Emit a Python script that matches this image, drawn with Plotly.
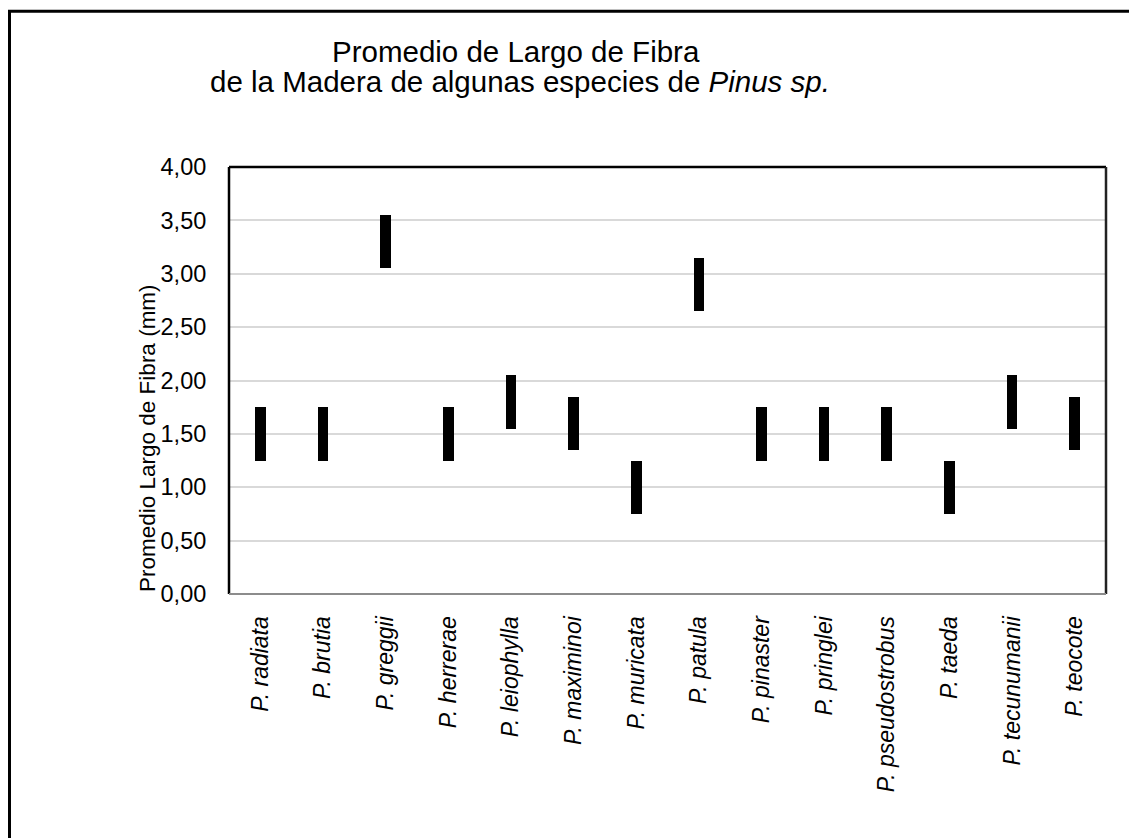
import plotly.graph_objects as go

species = ["P. radiata", "P. brutia", "P. greggii", "P. herrerae", "P. leiophylla",
           "P. maximinoi", "P. muricata", "P. patula", "P. pinaster", "P. pringlei",
           "P. pseudostrobus", "P. taeda", "P. tecunumanii", "P. teocote"]
fiber_min = [1.25, 1.25, 3.05, 1.25, 1.55, 1.35, 0.75, 2.65, 1.25, 1.25, 1.25, 0.75, 1.55, 1.35]
fiber_max = [1.75, 1.75, 3.55, 1.75, 2.05, 1.85, 1.25, 3.15, 1.75, 1.75, 1.75, 1.25, 2.05, 1.85]
y_ticks = [0, 0.5, 1.0, 1.5, 2.0, 2.5, 3.0, 3.5, 4.0]

FONT = "Liberation Sans, Arial, sans-serif"

fig = go.Figure()
fig.add_trace(go.Bar(
    x=species,
    base=fiber_min,
    y=[hi - lo for lo, hi in zip(fiber_min, fiber_max)],
    width=0.17,
    marker=dict(color="black", line=dict(width=0)),
    showlegend=False,
    hoverinfo="skip",
))

W, H = 1129, 838
L, R, T, B = 229, 23, 167, 244
pw, ph = W - L - R, H - T - B

def px(xp):
    return (xp - L) / pw

def py(yp):
    return (H - B - yp) / ph

fig.update_layout(
    width=W, height=H,
    margin=dict(l=L, r=R, t=T, b=B, pad=0),
    paper_bgcolor="white", plot_bgcolor="white",
    separators=",.",
    font=dict(family=FONT, color="black"),
    xaxis=dict(
        type="category",
        tickmode="array",
        tickvals=species,
        ticktext=["<i>%s</i>" % s for s in species],
        tickangle=-90,
        tickfont=dict(size=23, family=FONT, color="black"),
        showgrid=False,
        showline=False,
        ticks="outside", ticklen=12, tickcolor="rgba(0,0,0,0)",
        range=[-0.5, len(species) - 0.5],
        fixedrange=True,
    ),
    yaxis=dict(
        range=[0, 4],
        tickmode="array",
        tickvals=y_ticks,
        tickformat=".2f",
        tickfont=dict(size=23.5, family=FONT, color="black"),
        showgrid=True, gridcolor="#d9d9d9", gridwidth=1.5,
        zeroline=False,
        showline=False,
        ticks="outside", ticklen=17, tickcolor="rgba(0,0,0,0)",
        fixedrange=True,
    ),
    bargap=0,
)

# plot frame: left/top/right black, bottom gray
fig.add_shape(type="line", xref="paper", yref="paper", x0=0, x1=0, y0=0, y1=1,
              line=dict(color="black", width=2.5))
fig.add_shape(type="line", xref="paper", yref="paper", x0=0, x1=1, y0=1, y1=1,
              line=dict(color="black", width=2.5))
fig.add_shape(type="line", xref="paper", yref="paper", x0=1, x1=1, y0=0, y1=1,
              line=dict(color="#222222", width=2.5))
fig.add_shape(type="line", xref="paper", yref="paper", x0=0, x1=1, y0=0, y1=0,
              line=dict(color="#8c8c8c", width=2))

# outer border
fig.add_shape(type="rect", xref="paper", yref="paper",
              x0=px(9.5), x1=px(W + 20), y0=py(H + 20), y1=py(11.3),
              line=dict(color="black", width=3), fillcolor="rgba(0,0,0,0)")

# title lines
fig.add_annotation(text="Promedio de Largo de Fibra", xref="paper", yref="paper",
                   x=px(516), y=py(52), xanchor="center", yanchor="middle",
                   showarrow=False, font=dict(size=29.5, family=FONT, color="black"))
fig.add_annotation(text="de la Madera de algunas especies de <i>Pinus sp.</i>",
                   xref="paper", yref="paper",
                   x=px(520), y=py(81), xanchor="center", yanchor="middle",
                   showarrow=False, font=dict(size=29.5, family=FONT, color="black"))

# y axis title
fig.add_annotation(text="Promedio Largo de Fibra (mm)", xref="paper", yref="paper",
                   x=px(147), y=py(438), xanchor="center", yanchor="middle",
                   textangle=-90, showarrow=False,
                   font=dict(size=22.5, family=FONT, color="black"))

fig.write_html("out.html", config={"displayModeBar": False},
               post_script="document.body.style.margin='0';")
